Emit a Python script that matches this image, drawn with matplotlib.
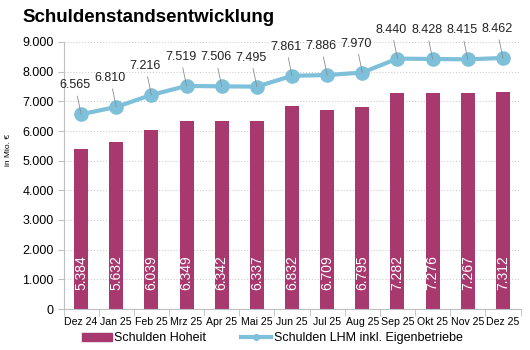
import numpy as np
import matplotlib
matplotlib.use("Agg")
from matplotlib import pyplot as plt
from matplotlib.lines import Line2D
from matplotlib.patches import Patch
from matplotlib.ticker import FuncFormatter

months = ["Dez 24", "Jan 25", "Feb 25", "Mrz 25", "Apr 25", "Mai 25", "Jun 25",
          "Jul 25", "Aug 25", "Sep 25", "Okt 25", "Nov 25", "Dez 25"]
schulden_hoheit = [5384, 5632, 6039, 6349, 6342, 6337, 6832, 6709, 6795, 7282, 7276, 7267, 7312]
schulden_lhm = [6565, 6810, 7216, 7519, 7506, 7495, 7861, 7886, 7970, 8440, 8428, 8415, 8462]

bar_color = '#A7396F'
line_color = '#7EC0DA'
axis_gray = '#BFBFBF'


def de_fmt(v):
    return f"{v:,.0f}".replace(",", ".")


plt.rcParams['font.family'] = ['Liberation Sans', 'DejaVu Sans']

fig = plt.figure(figsize=(5.3, 3.5), dpi=100)
ax = fig.add_axes([63.5 / 530, 1 - 309 / 350, 457 / 530, 267 / 350])

x = np.arange(len(months))
ax.bar(x, schulden_hoheit, width=0.4, color=bar_color, zorder=2)
ax.plot(x, schulden_lhm, color=line_color, lw=3, marker='o', markersize=9.5, zorder=3)

# bar labels, white and rotated near the bottom
for xi, v in zip(x, schulden_hoheit):
    ax.annotate(de_fmt(v), xy=(xi, 0), xytext=(0, 19), textcoords='offset pixels',
                rotation=90, ha='center', va='bottom', color='white', fontsize=10, zorder=4)

# line labels with leader lines
for xi, v in zip(x, schulden_lhm):
    ax.annotate(de_fmt(v), xy=(xi, v), xytext=(-6, 29), textcoords='offset pixels',
                ha='center', va='center', fontsize=9, color='#222222', zorder=5,
                arrowprops=dict(arrowstyle='-', color='#8C8C8C', lw=0.6, shrinkA=1.5, shrinkB=0))

ax.set_xlim(-0.5, len(months) - 0.5)
ax.set_ylim(0, 9000)
ax.set_yticks(np.arange(0, 9001, 1000))
ax.yaxis.set_major_formatter(FuncFormatter(lambda v, p: de_fmt(v)))
ax.set_xticks(x)
ax.set_xticklabels(months)
ax.set_xticks(np.arange(-0.5, len(months), 1), minor=True)
ax.tick_params(axis='x', which='major', length=0, labelsize=7.6, pad=6)
ax.tick_params(axis='x', which='minor', length=5, color=axis_gray)
ax.tick_params(axis='y', length=4, color=axis_gray, labelsize=9, pad=3)

ax.grid(axis='y', linestyle=':', color='#CFCFCF', lw=0.8, zorder=0)
for s in ['top', 'right']:
    ax.spines[s].set_visible(False)
ax.spines['left'].set_color(axis_gray)
ax.spines['bottom'].set_color(axis_gray)

fig.text(9 / 530, 1 - 150 / 350, 'in Mio. €', rotation=90, fontsize=6, va='center', ha='center')
fig.text(22 / 530, 1 - 18 / 350, 'Schuldenstandsentwicklung', fontsize=13.5,
         fontweight='bold', va='center', ha='left')

handles = [Patch(color=bar_color),
           Line2D([0], [0], color=line_color, lw=3, marker='o', markersize=4)]
fig.legend(handles, ['Schulden Hoheit', 'Schulden LHM inkl. Eigenbetriebe'],
           loc='center', bbox_to_anchor=(0.514, 1 - 338 / 350), ncol=2, frameon=False,
           fontsize=9, handlelength=2.4, handleheight=0.6, columnspacing=2.8, handletextpad=0.2)

fig.savefig('out.png', dpi=100)
